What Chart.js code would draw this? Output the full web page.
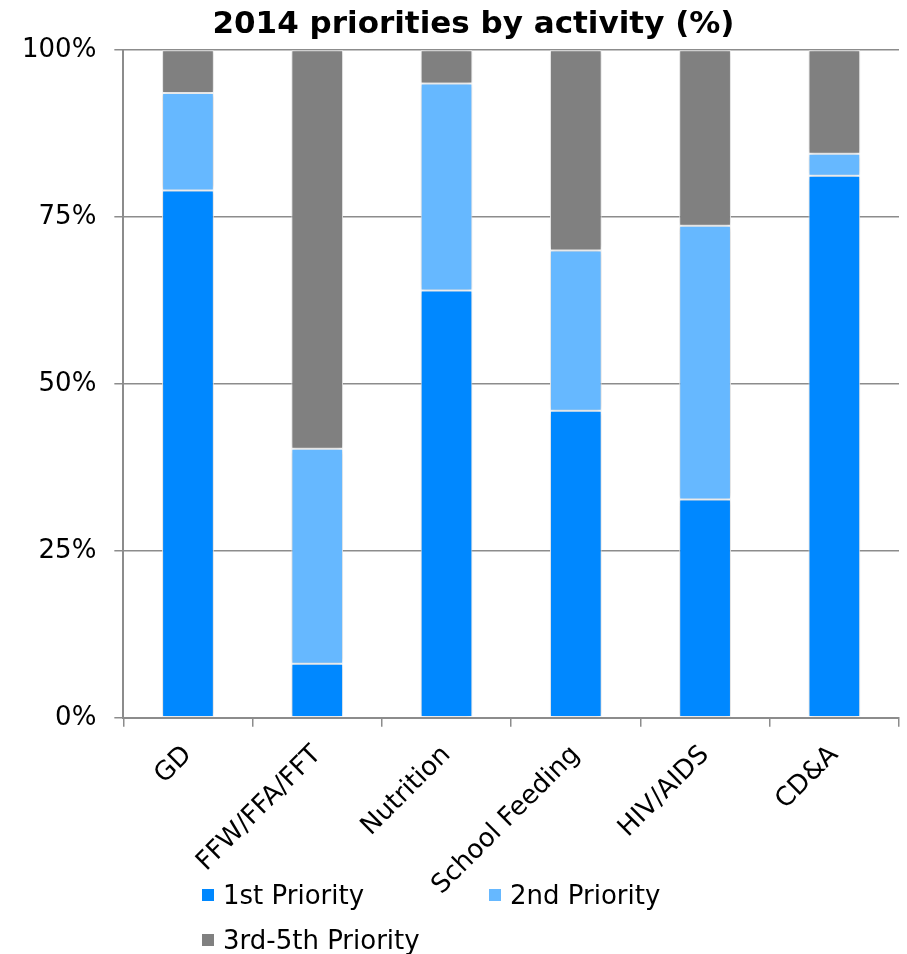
<!DOCTYPE html>
<html>
<head>
<meta charset="utf-8">
<title>2014 priorities by activity</title>
<script src="https://cdn.jsdelivr.net/npm/chart.js@4.4.1/dist/chart.umd.min.js"></script>
<style>
  html, body { margin: 0; padding: 0; background: #fff; }
  #wrap { position: relative; width: 907px; height: 954px; }
  #legend {
    position: absolute; left: 202px; top: 872px; width: 600px;
    display: flex; flex-wrap: wrap;
    font-family: "DejaVu Sans", Verdana, sans-serif; font-size: 26px; color: #000;
  }
  #legend .item { width: 287px; height: 45px; display: flex; align-items: center; }
  #legend .box { width: 12px; height: 12px; margin-right: 9px; flex: none; }
</style>
</head>
<body>
<div id="wrap">
  <canvas id="chart" width="907" height="954"></canvas>
  <div id="legend"></div>
</div>
<script>
// activities and share of each priority level (%)
const activities = ["GD", "FFW/FFA/FFT", "Nutrition", "School Feeding", "HIV/AIDS", "CD&A"];
const firstPriority = [79.0, 8.1, 64.0, 46.0, 32.7, 81.2];
const secondPriority = [14.6, 32.2, 31.0, 24.0, 41.0, 3.3];
const otherPriority = [6.4, 59.7, 5.0, 30.0, 26.3, 15.5];
const seriesNames = ["1st Priority", "2nd Priority", "3rd-5th Priority"];
const seriesColors = ["#0088ff", "#66b8ff", "#808080"];
const yTicks = [0, 25, 50, 75, 100];

const font = "'DejaVu Sans', Verdana, sans-serif";

// soft shadow around the bars
const barShadow = {
  id: "barShadow",
  beforeDatasetsDraw(chart) {
    const ctx = chart.ctx;
    ctx.save();
    ctx.shadowColor = "rgba(0,0,0,0.25)";
    ctx.shadowBlur = 5;
  },
  afterDatasetsDraw(chart) {
    chart.ctx.restore();
  }
};

// nudge the title a little right of the canvas centre
const titleShift = {
  id: "titleShift",
  afterLayout(chart) {
    const t = chart.titleBlock;
    if (t) { t.left += 22; t.right += 22; }
  }
};

const values = [firstPriority, secondPriority, otherPriority];

const chart = new Chart(document.getElementById("chart"), {
  type: "bar",
  data: {
    labels: activities,
    datasets: values.map((data, i) => ({
      label: seriesNames[i],
      data: data,
      backgroundColor: seriesColors[i],
      borderColor: "#ffffff",
      borderWidth: 1,
      borderSkipped: false,
      barPercentage: 0.4,
      categoryPercentage: 1.0
    }))
  },
  options: {
    responsive: false,
    animation: false,
    layout: { padding: { left: 4, right: 8, top: 0, bottom: 40 } },
    plugins: {
      legend: { display: false },
      tooltip: { enabled: false },
      title: {
        display: true,
        text: "2014 priorities by activity (%)",
        color: "#000",
        font: { family: font, size: 31, weight: "bold" },
        padding: { top: 6, bottom: 7 }
      }
    },
    scales: {
      x: {
        stacked: true,
        grid: { drawOnChartArea: false, drawTicks: true, tickLength: 9, color: "#8c8c8c", lineWidth: 1.5, offset: true },
        border: { color: "#8c8c8c", width: 2 },
        ticks: {
          color: "#000",
          font: { family: font, size: 26 },
          maxRotation: 45, minRotation: 45,
          autoSkip: false,
          padding: 13
        }
      },
      y: {
        stacked: true,
        min: 0, max: 100,
        afterBuildTicks(axis) { axis.ticks = yTicks.map(v => ({ value: v })); },
        grid: { color: "#8c8c8c", lineWidth: 1.5, tickLength: 9 },
        border: { color: "#8c8c8c", width: 2 },
        ticks: {
          color: "#000",
          font: { family: font, size: 26 },
          padding: 18,
          callback: v => v + "%"
        }
      }
    }
  },
  plugins: [barShadow, titleShift]
});

// legend laid out in two columns below the axis labels
const legend = document.getElementById("legend");
chart.data.datasets.forEach(ds => {
  const item = document.createElement("div");
  item.className = "item";
  const box = document.createElement("span");
  box.className = "box";
  box.style.background = ds.backgroundColor;
  const text = document.createElement("span");
  text.textContent = ds.label;
  item.appendChild(box);
  item.appendChild(text);
  legend.appendChild(item);
});
</script>
</body>
</html>
